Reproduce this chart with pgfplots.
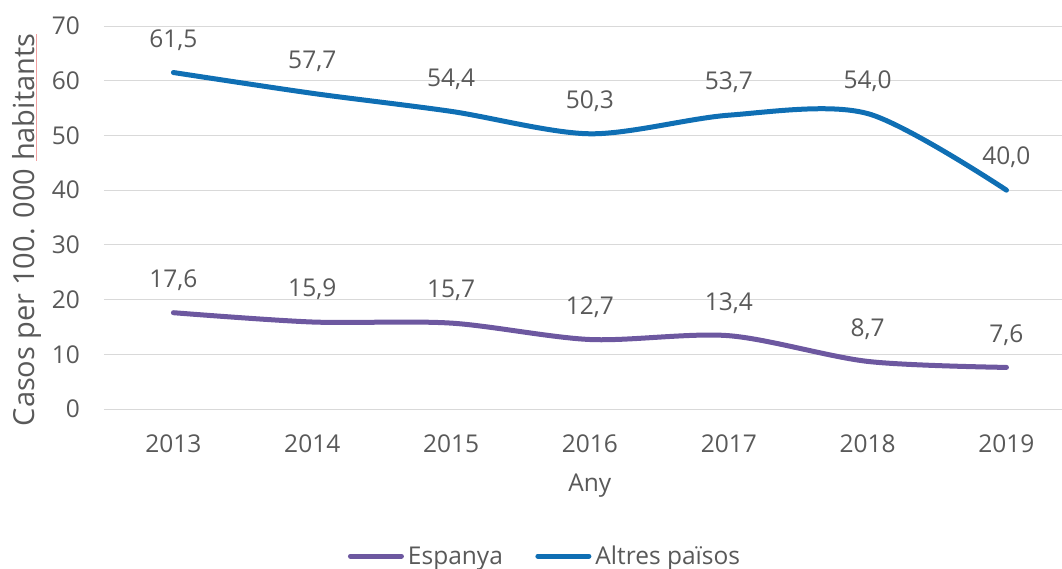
\documentclass[border=0pt]{standalone}
\usepackage{fontspec}
\setmainfont{Open Sans}
\usepackage{pgfplots}
\pgfplotsset{compat=1.18}
\definecolor{cblue}{HTML}{0F6FB4}
\definecolor{cpurp}{HTML}{6D58A0}
\definecolor{ctext}{HTML}{595959}
\definecolor{cgrid}{HTML}{D9D9D9}
\definecolor{cred}{HTML}{F2A0A0}
\newcommand\redul[1]{\setbox0\hbox{#1}\rlap{\textcolor{cred}{\rule[-2pt]{\wd0}{0.9pt}}}\box0}
\newcommand\fs{\fontsize{24.5}{29}\selectfont}
\begin{document}
\begin{tikzpicture}
\begin{axis}[
  scale only axis, width=958pt, height=383pt,
  xmin=2012.5, xmax=2019.4, ymin=0, ymax=70,
  clip=false,
  axis line style={draw=none}, tick style={draw=none},
  ymajorgrids, grid style={cgrid, line width=1pt},
  xtick={2013,2014,2015,2016,2017,2018,2019},
  xticklabels={2013,2014,2015,2016,2017,2018,2019},
  ytick={0,10,20,30,40,50,60,70},
  yticklabels={0,10,20,30,40,50,60,70},
  /pgf/number format/assume math mode=true,
  every tick label/.append style={font=\fs, text=ctext, inner sep=0pt},
  xticklabel style={anchor=base, yshift=-43.7pt},
  yticklabel style={anchor=east, xshift=-24pt},
  xlabel={Any},
  xlabel style={at={([yshift=-82.7pt]axis description cs:0.507,0)}, anchor=base, font=\fs, text=ctext, inner sep=0pt},
  ylabel={Casos per 100. 000 \redul{habitants}},
  ylabel style={at={([xshift=-69.2pt]axis description cs:0,0.4674)}, anchor=base, font=\fontsize{29}{34}\selectfont, text=ctext, inner sep=0pt},
  legend columns=2,
  legend cell align=left,
  legend style={at={(axis description cs:0.458,-0.384)}, anchor=center, draw=none, fill=none,
    font=\fs, text=ctext, inner sep=0pt, outer sep=0pt, nodes={inner sep=0pt},
    /tikz/every even column/.append style={column sep=30pt}},
  legend image code/.code={\draw[#1, line cap=round] (2.5pt,0pt) -- (53.5pt,0pt); \path (0pt,0pt) (57.5pt,0pt);},
  nodes near coords={\pgfmathprintnumber[fixed, fixed zerofill, precision=1, use comma, assume math mode=true]{\pgfplotspointmeta}},
  every node near coord/.append style={anchor=base, yshift=25.2pt, inner sep=0pt, text=ctext, font=\fs},
]
\addplot[cpurp, line width=5pt, smooth, line cap=round, line join=round] coordinates {
  (2013,17.6) (2014,15.9) (2015,15.7) (2016,12.7) (2017,13.4) (2018,8.7) (2019,7.6)};
\addlegendentry{Espanya}
\addplot[cblue, line width=5pt, smooth, line cap=round, line join=round] coordinates {
  (2013,61.5) (2014,57.7) (2015,54.4) (2016,50.3) (2017,53.7) (2018,54.0) (2019,40.0)};
\addlegendentry{Altres països}
\coordinate (O) at (rel axis cs:0,0);
\end{axis}
\pgfresetboundingbox
\useasboundingbox ([shift={(-104pt,-159pt)}]O) rectangle ([shift={(958pt,409pt)}]O);
\end{tikzpicture}
\end{document}
